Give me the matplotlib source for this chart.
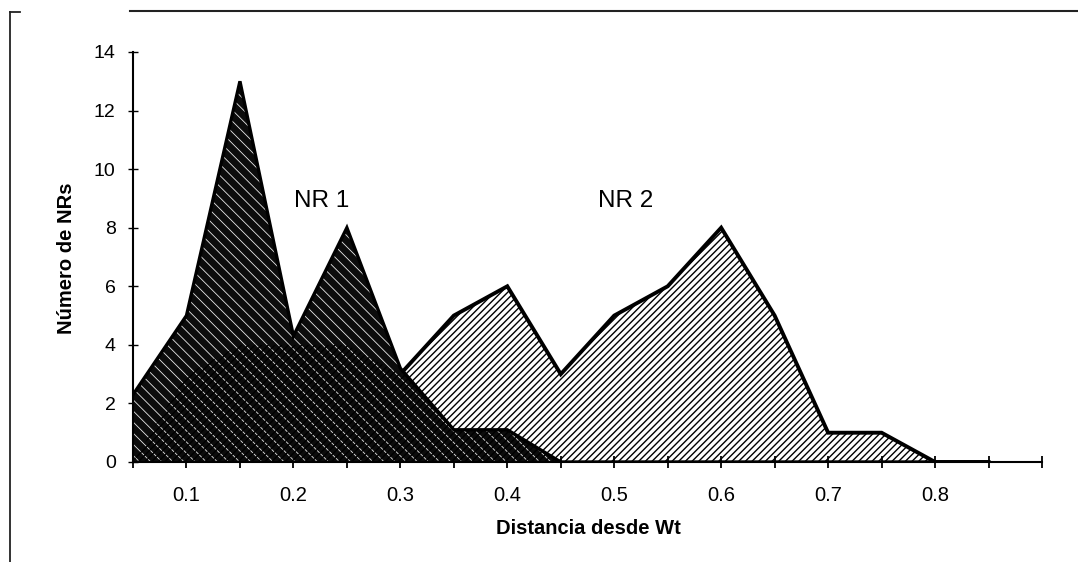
import numpy as np
import matplotlib
matplotlib.use("Agg")
import matplotlib.pyplot as plt
from matplotlib.lines import Line2D

# === Data ===
dist = [0.05, 0.10, 0.15, 0.20, 0.25, 0.30, 0.35, 0.40, 0.45,
        0.50, 0.55, 0.60, 0.65, 0.70, 0.75, 0.80, 0.85]
nr1 = [2.3, 5, 13, 4.3, 8, 3.2, 1.1, 1.1, 0,
       0, 0, 0, 0, 0, 0, 0, 0]
nr2 = [0, 3, 4, 4, 4, 3, 5, 6, 3,
       5, 6, 8, 5, 1, 1, 0, 0]

x_ticks = [0.05, 0.10, 0.15, 0.20, 0.25, 0.30, 0.35, 0.40, 0.45,
           0.50, 0.55, 0.60, 0.65, 0.70, 0.75, 0.80, 0.85, 0.90]
x_labels = ["", "0.1", "", "0.2", "", "0.3", "", "0.4", "",
            "0.5", "", "0.6", "", "0.7", "", "0.8", "", ""]
y_ticks = [0, 2, 4, 6, 8, 10, 12, 14]

plt.rcParams["font.family"] = ["Liberation Sans", "DejaVu Sans"]

fig = plt.figure(figsize=(10.78, 5.62), dpi=100)
ax = fig.add_axes([133 / 1078, 1 - 462 / 562, 909 / 1078, 410 / 562])

# === Areas ===
# NR 2 white base and outline sit behind NR 1; NR 2 hatch goes on top
ax.fill_between(dist, nr2, 0, facecolor="white", linewidth=0, zorder=1)
ax.plot(dist, nr2, color="black", lw=2.8, solid_joinstyle="miter", zorder=1.5)
plt.rcParams["hatch.linewidth"] = 0.6
ax.fill_between(dist, nr1, 0, facecolor="#0c0c0c", edgecolor="#e8e8e8",
                hatch="\\\\\\", linewidth=0, zorder=2)
plt.rcParams["hatch.linewidth"] = 1.0
ax.fill_between(dist, nr2, 0, facecolor="none", edgecolor="black",
                hatch="/////", linewidth=0, zorder=3)
ax.plot(dist, nr1, color="black", lw=2.4, solid_joinstyle="miter", zorder=5)

# === Axes ===
ax.set_xlim(0.05, 0.90)
ax.set_ylim(0, 14)
ax.set_xticks(x_ticks)
ax.set_xticklabels(x_labels)
ax.set_yticks(y_ticks)
for s in ["top", "right"]:
    ax.spines[s].set_visible(False)
for s in ["left", "bottom"]:
    ax.spines[s].set_linewidth(1.5)
    ax.spines[s].set_zorder(6)
ax.tick_params(axis="x", direction="inout", length=8, width=1.3, pad=13,
               labelsize=14.5)
ax.tick_params(axis="y", direction="inout", length=7, width=1.0, pad=9,
               labelsize=14)

# === Labels ===
ax.text(0.226, 8.9, "NR 1", fontsize=17.5, ha="center", va="center")
ax.text(0.511, 8.9, "NR 2", fontsize=17.5, ha="center", va="center")
fig.text(588 / 1078, 1 - 528 / 562, "Distancia desde Wt", fontsize=14.5,
         fontweight="bold", ha="center", va="center")
fig.text(67 / 1078, 1 - 258 / 562, "Número de NRs", fontsize=14.5,
         fontweight="bold", rotation=90, ha="center", va="center")

# === Chart area border (scanned frame) ===
fig.add_artist(Line2D([10 / 1078, 10 / 1078], [0, 1 - 12 / 562],
                      transform=fig.transFigure, color="#222222", lw=1.3))
fig.add_artist(Line2D([130 / 1078, 1], [1 - 11 / 562, 1 - 11 / 562],
                      transform=fig.transFigure, color="#222222", lw=1.5))
fig.add_artist(Line2D([10 / 1078, 20 / 1078], [1 - 12 / 562, 1 - 12 / 562],
                      transform=fig.transFigure, color="#222222", lw=1.3))

fig.savefig("out.png", dpi=100)
